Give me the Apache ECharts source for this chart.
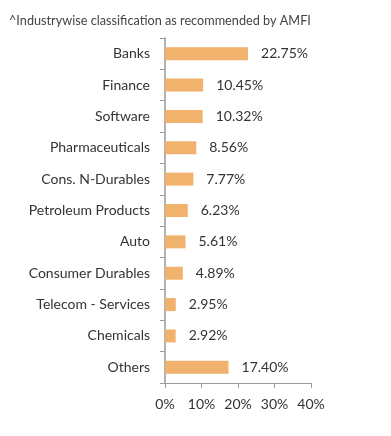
<!DOCTYPE html>
<html><head><meta charset="utf-8">
<script src="https://cdn.jsdelivr.net/npm/echarts@6/dist/echarts.min.js"></script>
<style>html,body{margin:0;padding:0;background:#fff}#c{width:391px;height:436px}</style>
</head><body><div id="c"></div>
<script>
const title = "^Industrywise classification as recommended by AMFI";
const categories = ["Banks","Finance","Software","Pharmaceuticals","Cons. N-Durables","Petroleum Products","Auto","Consumer Durables","Telecom - Services","Chemicals","Others"];
const values = [22.75,10.45,10.32,8.56,7.77,6.23,5.61,4.89,2.95,2.92,17.40];
const xTicks = [0,10,20,30,40];

const chart = echarts.init(document.getElementById('c'), null, {renderer:'canvas'});
const font = 'Lato, "Open Sans", sans-serif';
chart.setOption({
  animation:false,
  title:{text:title,left:4,top:9,textStyle:{fontSize:12.7,fontWeight:'normal',color:'#444',fontFamily:font}},
  grid:{left:165,right:80,top:38,bottom:53,containLabel:false},
  xAxis:{type:'value',min:0,max:40,interval:10,
    axisLine:{show:true,lineStyle:{color:'#999'}},
    axisTick:{show:true,length:5,lineStyle:{color:'#999'}},
    splitLine:{show:false},
    axisLabel:{formatter:v=>v+'%',color:'#333',fontSize:14,fontFamily:font,margin:14}},
  yAxis:{type:'category',inverse:true,data:categories,
    axisLine:{show:true,lineStyle:{color:'#999',width:1.5}},
    axisTick:{show:true,length:5,lineStyle:{color:'#999'}},
    axisLabel:{color:'#333',fontSize:14,fontFamily:font,margin:15}},
  series:[{type:'bar',data:values,barWidth:13,
    itemStyle:{color:'#F0B26C'},
    label:{show:true,position:'right',distance:13,formatter:p=>p.value.toFixed(2)+'%',color:'#333',fontSize:14,fontFamily:font}}]
});
</script></body></html>
